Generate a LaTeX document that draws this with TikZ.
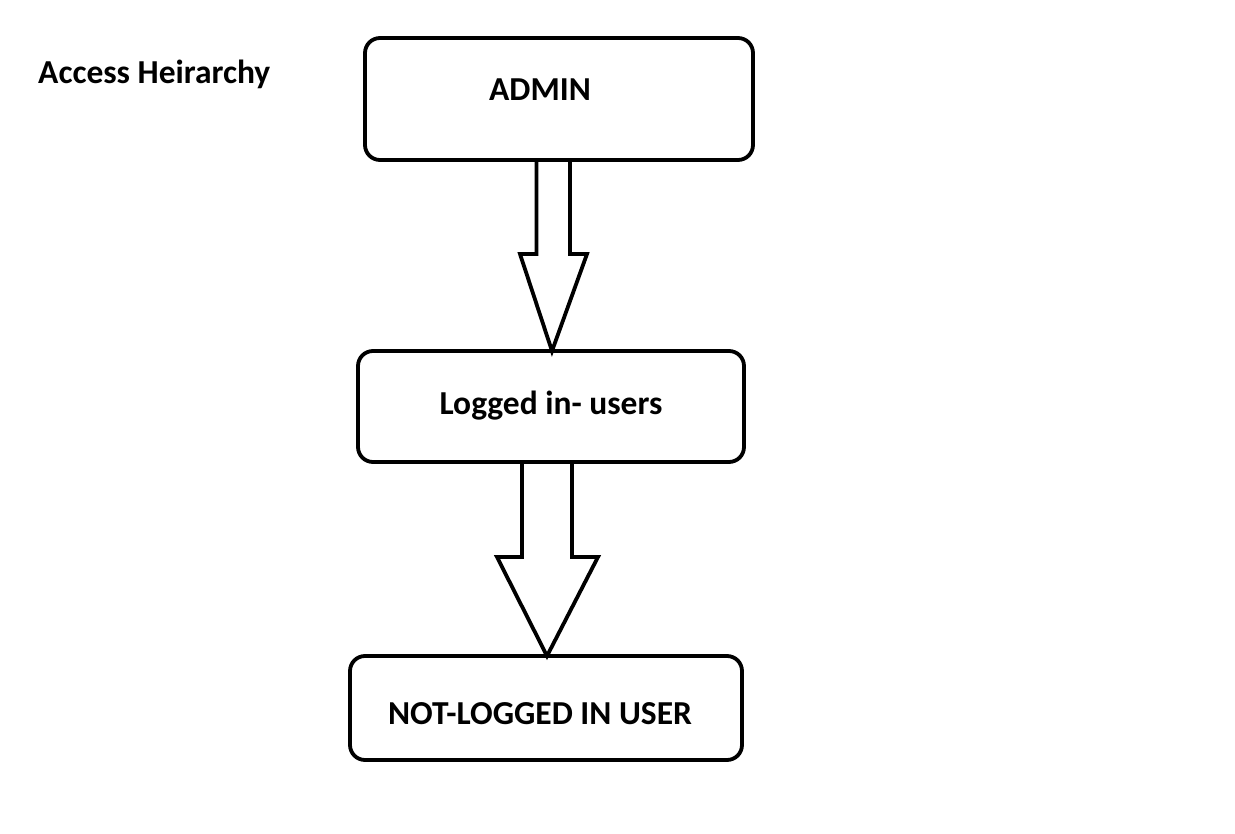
\documentclass[tikz,border=0pt]{standalone}
\usepackage{fontspec}
\setmainfont{Carlito}
\usetikzlibrary{calc,backgrounds}
\begin{document}
\begin{tikzpicture}[x=1pt,y=-1pt,
  box/.style={draw=black, line width=3.8pt, rounded corners=15pt, rectangle, inner sep=0pt, outer sep=0pt, anchor=north west},
  lbl/.style={font=\fontsize{33.5}{40}\selectfont\bfseries, inner sep=0pt, anchor=base},
  blockarrow/.style={draw=black, line width=3.8pt, fill=white, line join=miter}]
\useasboundingbox (0,0) rectangle (1235,834);
\node[box, minimum width=388pt, minimum height=122pt] (admin) at (365,38) {};
\node[box, minimum width=386pt, minimum height=111pt] (logged) at (358,351) {};
\node[box, minimum width=392pt, minimum height=104pt] (notlogged) at (350,656) {};
\node[lbl] (adminlbl) at (540,101) {ADMIN};
\node[lbl] (loggedlbl) at (551,414) {Logged in- users};
\node[lbl] (notloggedlbl) at (540,724) {NOT-LOGGED IN USER};
\node[lbl, anchor=base west] (title) at (38,84) {Access Heirarchy};
\begin{pgfonlayer}{background}
% arrow admin -> logged
\draw[blockarrow] (536.5,0 |- admin.south) -- (536.5,254) -- (520,254) -- (552,0 |- logged.north) -- (587,254) -- (570,254) -- (570,0 |- admin.south);
% arrow logged -> notlogged
\draw[blockarrow] (522,0 |- logged.south) -- (522,557) -- (497,557) -- (547,0 |- notlogged.north) -- (598,557) -- (572,557) -- (572,0 |- logged.south);
\end{pgfonlayer}
\end{tikzpicture}
\end{document}
